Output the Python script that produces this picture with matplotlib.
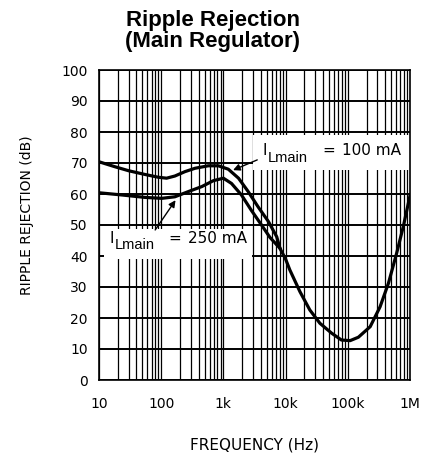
import numpy as np
import matplotlib
matplotlib.use('Agg')
import matplotlib.pyplot as plt
from matplotlib.patches import Rectangle
from matplotlib.ticker import LogLocator, NullFormatter

# values
# I_Lmain = 100 mA, up to where the two curves meet
f_100 = [10, 18, 30, 55, 90, 122, 166, 240, 350, 570, 830, 1200, 1750, 2500, 3600, 5300, 7200]
rr_100 = [70.4, 68.8, 67.5, 66.3, 65.4, 65.1, 65.8, 67.2, 68.3, 69.1, 69.1, 68.0, 65.1, 60.8, 55.9, 51.1, 46.2]

# I_Lmain = 250 mA, up to where the two curves meet
f_250 = [10, 23, 55, 102, 166, 275, 450, 690, 1000, 1350, 1950, 2800, 4100, 5600]
rr_250 = [60.4, 59.7, 58.9, 58.6, 59.1, 60.8, 62.4, 64.3, 65.1, 63.4, 59.7, 54.8, 50.0, 46.0]

# shared part of both curves
f_hi = [8100, 10000, 11700, 17000, 24500, 35600, 55000, 79000, 109000, 148000, 229000,
        330000, 450000, 610000, 780000, 1000000]
rr_hi = [42.5, 39.0, 35.5, 28.5, 22.6, 18.3, 15.1, 12.9, 12.7, 13.8, 17.2,
         23.6, 31.2, 40.9, 49.5, 59.5]

xticks = [10, 100, 1e3, 1e4, 1e5, 1e6]
xtick_labels = ['10', '100', '1k', '10k', '100k', '1M']
yticks = list(range(0, 101, 10))

fig = plt.figure(figsize=(4.25, 4.57), dpi=100)
ax = fig.add_axes([99/425, 1-380/457, 311/425, 310/457])

ax.plot(f_100 + f_hi, rr_100 + rr_hi, color='black', lw=2.3, solid_joinstyle='round', zorder=3)
ax.plot(f_250 + f_hi[:1], rr_250 + rr_hi[:1], color='black', lw=2.3, solid_joinstyle='round', zorder=3)

ax.set_xscale('log')
ax.set_xlim(10, 1e6)
ax.set_ylim(0, 100)
ax.set_xticks(xticks)
ax.set_xticklabels(xtick_labels)
ax.xaxis.set_minor_locator(LogLocator(base=10, subs=np.arange(2, 10)))
ax.xaxis.set_minor_formatter(NullFormatter())
ax.set_yticks(yticks)

ax.grid(which='major', axis='y', color='black', lw=1.4)
ax.grid(which='both', axis='x', color='black', lw=0.9)
ax.set_axisbelow(True)
for s in ax.spines.values():
    s.set_linewidth(1.2)

ax.tick_params(which='both', length=0, labelsize=10)
ax.tick_params(axis='x', pad=12)
ax.tick_params(axis='y', pad=8)

ax.set_xlabel('FREQUENCY (Hz)', fontsize=11, va='center')
ax.xaxis.set_label_coords(0.5, (380-445)/310)
ax.set_ylabel('RIPPLE REJECTION (dB)', fontsize=10, va='center')
ax.yaxis.set_label_coords((27-99)/311, (380-215)/310)

# white label boxes that cut the grid
ax.add_patch(Rectangle((0.495, 0.677), 0.505, 0.113, transform=ax.transAxes,
                       facecolor='white', edgecolor='none', zorder=2))
ax.add_patch(Rectangle((0.016, 0.390), 0.476, 0.097, transform=ax.transAxes,
                       facecolor='white', edgecolor='none', zorder=2))

lab = dict(transform=ax.transAxes, fontsize=11, ha='left', va='baseline', zorder=4)
sub = dict(lab, fontsize=10.5, family='Liberation Sans')
ax.text(0.527, 0.726, 'I', **lab)
ax.text(0.543, 0.703, 'Lmain', **sub)
ax.text(0.717, 0.726, '=', **lab)
ax.text(0.781, 0.726, '100 mA', **lab)

ax.text(0.035, 0.442, 'I', **lab)
ax.text(0.051, 0.423, 'Lmain', **sub)
ax.text(0.222, 0.442, '=', **lab)
ax.text(0.286, 0.442, '250 mA', **lab)

arrow = dict(arrowstyle='-|>', color='black', lw=1.0, mutation_scale=10, shrinkA=0, shrinkB=0)
ax.annotate('', xy=(1430, 67.7), xytext=(3500, 71.0), arrowprops=arrow, zorder=4)
ax.annotate('', xy=(170, 58.0), xytext=(80, 48.4), arrowprops=arrow, zorder=4)

fig.text(0.5, 1-31/457, 'Ripple Rejection\n(Main Regulator)', ha='center', va='center',
         fontsize=16, fontweight='bold', family='Liberation Sans', linespacing=0.95)

fig.savefig('out.png', dpi=100)
